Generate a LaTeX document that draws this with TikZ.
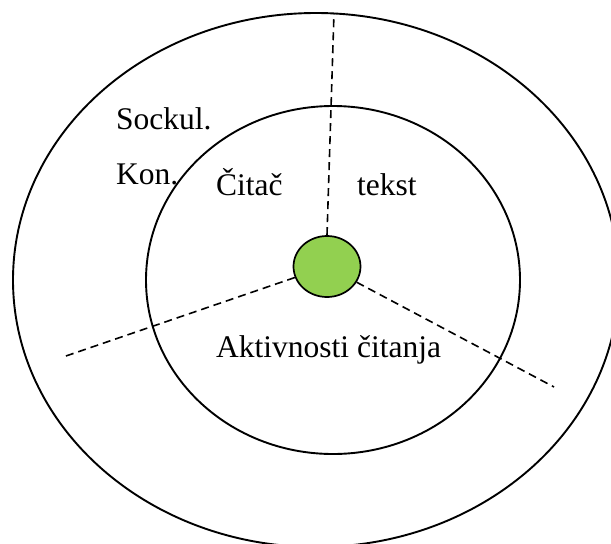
\documentclass[tikz,border=0pt]{standalone}
\usepackage{fontspec}
\setmainfont{Liberation Serif}
\usetikzlibrary{shapes.geometric}
\definecolor{leafgreen}{HTML}{92D050}
\tikzset{
  ring/.style={ellipse, draw=black, line width=1.9pt, inner sep=0pt},
  divider/.style={draw=black, line width=1.6pt, dash pattern=on 8pt off 5pt},
  label/.style={anchor=base west, inner sep=0pt, font=\fontsize{31.5}{38}\selectfont},
}
\begin{document}
\begin{tikzpicture}[x=1pt, y=-1pt]
  \useasboundingbox (0,0) rectangle (611,544);
  % two nested rings
  \node[ring, minimum width=606pt, minimum height=534pt] (outer) at (316,280) {};
  \node[ring, minimum width=374pt, minimum height=348pt] (inner) at (333,280) {};
  % the core
  \node[ellipse, draw=black, line width=1.7pt, fill=leafgreen, inner sep=0pt,
        minimum width=67pt, minimum height=61pt] (core) at (327,266.5) {};
  % free ends of the dividers
  \coordinate (topend) at (334,13);
  \coordinate (leftend) at (63,357);
  \coordinate (rightend) at (554,387);
  \draw[divider] (core.north) -- (topend);
  \draw[divider] (core) -- (leftend);
  \draw[divider] (core) -- (rightend);
  % labels
  \node[label] (sockul) at (116,129) {Sockul.};
  \node[label] (kon) at (116,184) {Kon.};
  \node[label] (citac) at (216,195) {Čitač};
  \node[label] (tekst) at (357,195) {tekst};
  \node[label] (aktiv) at (216,357) {Aktivnosti čitanja};
\end{tikzpicture}
\end{document}
